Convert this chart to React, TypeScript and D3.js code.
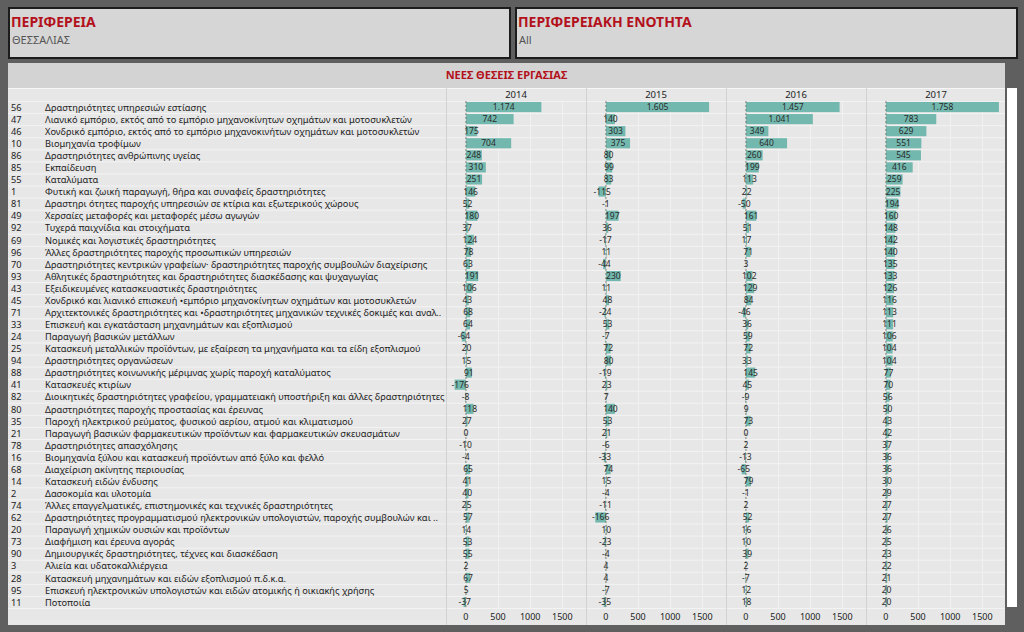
import React, { useEffect, useRef } from 'react'
import * as d3 from 'd3'

const codes = ['56', '47', '46', '10', '86', '85', '55', '1', '81', '49', '92', '69', '96', '70', '93', '43', '45', '71', '33', '24', '25', '94', '88', '41', '82', '80', '35', '21', '78', '16', '68', '14', '2', '74', '62', '20', '73', '90', '3', '28', '95', '11']

const sectors = [
  'Δραστηριότητες υπηρεσιών εστίασης',
  'Λιανικό εμπόριο, εκτός από το εμπόριο μηχανοκίνητων οχημάτων και μοτοσυκλετών',
  'Χονδρικό εμπόριο, εκτός από το εμπόριο μηχανοκινήτων οχημάτων και μοτοσυκλετών',
  'Βιομηχανία τροφίμων',
  'Δραστηριότητες ανθρώπινης υγείας',
  'Εκπαίδευση',
  'Καταλύματα',
  'Φυτική και ζωική παραγωγή, θήρα και συναφείς δραστηριότητες',
  'Δραστηρι ότητες παροχής υπηρεσιών σε κτίρια και εξωτερικούς χώρους',
  'Χερσαίες μεταφορές και μεταφορές μέσω αγωγών',
  'Τυχερά παιχνίδια και στοιχήματα',
  'Νομικές και λογιστικές δραστηριότητες',
  'Άλλες δραστηριότητες παροχής προσωπικών υπηρεσιών',
  'Δραστηριότητες κεντρικών γραφείων· δραστηριότητες παροχής συμβουλών διαχείρισης',
  'Αθλητικές δραστηριότητες και δραστηριότητες διασκέδασης και ψυχαγωγίας',
  'Εξειδικευμένες κατασκευαστικές δραστηριότητες',
  'Χονδρικό και λιανικό επισκευή •εμπόριο μηχανοκίνητων οχημάτων και μοτοσυκλετών',
  'Αρχιτεκτονικές δραστηριότητες και •δραστηριότητες μηχανικών τεχνικές δοκιμές και αναλ..',
  'Επισκευή και εγκατάσταση μηχανημάτων και εξοπλισμού',
  'Παραγωγή βασικών μετάλλων',
  'Κατασκευή μεταλλικών προϊόντων, με εξαίρεση τα μηχανήματα και τα είδη εξοπλισμού',
  'Δραστηριότητες οργανώσεων',
  'Δραστηριότητες κοινωνικής μέριμνας χωρίς παροχή καταλύματος',
  'Κατασκευές κτιρίων',
  'Διοικητικές δραστηριότητες γραφείου, γραμματειακή υποστήριξη και άλλες δραστηριότητες',
  'Δραστηριότητες παροχής προστασίας και έρευνας',
  'Παροχή ηλεκτρικού ρεύματος, φυσικού αερίου, ατμού και κλιματισμού',
  'Παραγωγή βασικών φαρμακευτικών προϊόντων και φαρμακευτικών σκευασμάτων',
  'Δραστηριότητες απασχόλησης',
  'Βιομηχανία ξύλου και κατασκευή προϊόντων από ξύλο και φελλό',
  'Διαχείριση ακίνητης περιουσίας',
  'Κατασκευή ειδών ένδυσης',
  'Δασοκομία και υλοτομία',
  'Άλλες επαγγελματικές, επιστημονικές και τεχνικές δραστηριότητες',
  'Δραστηριότητες προγραμματισμού ηλεκτρονικών υπολογιστών, παροχής συμβουλών και ..',
  'Παραγωγή χημικών ουσιών και προϊόντων',
  'Διαφήμιση και έρευνα αγοράς',
  'Δημιουργικές δραστηριότητες, τέχνες και διασκέδαση',
  'Αλιεία και υδατοκαλλιέργεια',
  'Κατασκευή μηχανημάτων και ειδών εξοπλισμού π.δ.κ.α.',
  'Επισκευή ηλεκτρονικών υπολογιστών και ειδών ατομικής ή οικιακής χρήσης',
  'Ποτοποιία',
]

const years = ['2014', '2015', '2016', '2017']

const jobs2014 = [1174, 742, 175, 704, 248, 310, 251, 146, 52, 180, 37, 124, 78, 63, 191, 106, 43, 68, 64, -64, 20, 15, 91, -176, -8, 118, 27, 0, -10, -4, 65, 41, 40, 25, 57, 14, 53, 55, 2, 67, 5, -37]
const jobs2015 = [1605, 140, 303, 375, 80, 99, 83, -115, -1, 197, 36, -17, 11, -44, 230, 11, 48, -24, 53, -7, 72, 80, -19, 23, 7, 140, 53, 21, -6, -33, 74, 15, -4, -11, -166, 10, -23, -4, 4, 4, -7, -35]
const jobs2016 = [1457, 1041, 349, 640, 260, 199, 113, 22, -50, 161, 51, 17, 71, 3, 102, 129, 84, -46, 36, 59, 72, 33, 145, 45, -9, 9, 73, 0, 2, -13, -65, 79, -1, 2, 52, 16, 10, 39, 2, -7, 12, 18]
const jobs2017 = [1758, 783, 629, 551, 545, 416, 259, 225, 194, 160, 148, 142, 140, 135, 133, 126, 116, 113, 111, 106, 104, 104, 77, 70, 56, 50, 43, 42, 37, 36, 36, 30, 29, 27, 27, 26, 25, 23, 22, 21, 20, 20]

const seriesByYear = [jobs2014, jobs2015, jobs2016, jobs2017]
const axisTicks = [0, 500, 1000, 1500]

const FONT = '"Noto Sans", "Open Sans", sans-serif'
const RED = '#b3111c'

export default function App() {
  const svgRef = useRef<SVGSVGElement>(null)

  useEffect(() => {
    document.body.style.margin = '0'
    if (!svgRef.current) return
    const svg = d3.select(svgRef.current)
    svg.selectAll('*').remove()

    const W = 1024
    const H = 632
    svg.append('rect').attr('width', W).attr('height', H).attr('fill', '#5f5f5f')

    // filter boxes
    const boxes = [
      { x: 8, title: 'ΠΕΡΙΦΕΡΕΙΑ', value: 'ΘΕΣΣΑΛΙΑΣ' },
      { x: 515, title: 'ΠΕΡΙΦΕΡΕΙΑΚΗ ΕΝΟΤΗΤΑ', value: 'All' },
    ]
    boxes.forEach((b) => {
      svg.append('rect')
        .attr('x', b.x + 1).attr('y', 8).attr('width', 501).attr('height', 50)
        .attr('fill', '#d6d6d6').attr('stroke', '#1c1c1c').attr('stroke-width', 2)
      svg.append('text')
        .attr('x', b.x + 3).attr('y', 27)
        .style('font-family', FONT).style('font-size', '14px').style('font-weight', '700')
        .style('fill', RED).text(b.title)
      svg.append('text')
        .attr('x', b.x + 4).attr('y', 44)
        .style('font-family', FONT).style('font-size', '11px')
        .style('fill', '#555').text(b.value)
    })

    // main panel
    const panelLeft = 8
    const panelRight = 1005
    svg.append('rect')
      .attr('x', panelLeft).attr('y', 63).attr('width', panelRight - panelLeft).attr('height', 562)
      .attr('fill', '#e7e7e7')
    svg.append('rect')
      .attr('x', panelLeft).attr('y', 63).attr('width', panelRight - panelLeft).attr('height', 25)
      .attr('fill', '#d3d3d3')
    svg.append('line')
      .attr('x1', panelLeft).attr('x2', panelRight).attr('y1', 88.5).attr('y2', 88.5)
      .attr('stroke', '#f7f7f7').attr('stroke-width', 1)
    svg.append('text')
      .attr('x', (panelLeft + panelRight) / 2).attr('y', 79)
      .attr('text-anchor', 'middle')
      .style('font-family', FONT).style('font-size', '11px').style('font-weight', '700')
      .style('fill', RED).text('ΝΕΕΣ ΘΕΣΕΙΣ ΕΡΓΑΣΙΑΣ')

    // scroll strip
    svg.append('rect')
      .attr('x', 1007).attr('y', 88).attr('width', 10).attr('height', 519)
      .attr('fill', '#ffffff')

    const rowIds = codes.map((c, i) => `${i}`)
    const yScale = d3.scaleBand().domain(rowIds).range([101, 608]).paddingInner(0.16).paddingOuter(0.08)
    const step = yScale.step()
    const rowTop = 101

    // row gridlines
    const g = svg.append('g')
    d3.range(codes.length + 1).forEach((i) => {
      g.append('line')
        .attr('x1', panelLeft).attr('x2', panelRight)
        .attr('y1', rowTop + i * step + 0.5).attr('y2', rowTop + i * step + 0.5)
        .attr('stroke', '#f3f3f3').attr('stroke-width', 1)
    })

    // row labels
    codes.forEach((c, i) => {
      const cy = rowTop + i * step + step / 2 + 0.5
      g.append('text')
        .attr('x', 11).attr('y', cy).attr('dy', '0.35em')
        .style('font-family', FONT).style('font-size', '9.25px').style('fill', '#222')
        .text(c)
      g.append('text')
        .attr('x', 45).attr('y', cy).attr('dy', '0.35em')
        .style('font-family', FONT).style('font-size', '9.25px').style('fill', '#222')
        .text(sectors[i])
    })

    const fmt = d3.formatLocale({ decimal: ',', thousands: '.', grouping: [3], currency: ['', '€'], minus: '-' }).format(',d')

    const panelStart = 446
    const panelWidth = 140
    const panelX = d3.scaleBand().domain(years).range([panelStart, panelStart + panelWidth * 4])

    years.forEach((yr, k) => {
      const px = panelX(yr) || 0
      const x = d3.scaleLinear().domain([-310, 1868]).range([px, px + panelWidth])

      // panel divider
      g.append('line')
        .attr('x1', px + 0.5).attr('x2', px + 0.5).attr('y1', 88).attr('y2', 625)
        .attr('stroke', '#d2d2d2')

      // vertical gridlines
      axisTicks.slice(1).forEach((t) => {
        g.append('line')
          .attr('x1', Math.round(x(t)) + 0.5).attr('x2', Math.round(x(t)) + 0.5)
          .attr('y1', rowTop).attr('y2', 608)
          .attr('stroke', '#f1f1f1')
      })

      g.append('text')
        .attr('x', px + panelWidth / 2).attr('y', 95).attr('dy', '0.35em')
        .attr('text-anchor', 'middle')
        .style('font-family', FONT).style('font-size', '9.5px').style('fill', '#222')
        .text(yr)

      const vals = seriesByYear[k]
      g.selectAll(`rect.bar-${yr}`)
        .data(vals)
        .join('rect')
        .attr('class', `bar-${yr}`)
        .attr('x', (d) => x(Math.min(0, d)))
        .attr('y', (d, i) => yScale(`${i}`) || 0)
        .attr('width', (d) => Math.abs(x(d) - x(0)))
        .attr('height', yScale.bandwidth())
        .attr('fill', '#73b8ae')

      // zero reference line
      g.append('line')
        .attr('x1', x(0)).attr('x2', x(0)).attr('y1', rowTop).attr('y2', 608)
        .attr('stroke', '#6a6a5a').attr('stroke-width', 0.8)
        .attr('stroke-dasharray', '2,2')

      g.selectAll(`text.val-${yr}`)
        .data(vals)
        .join('text')
        .attr('class', `val-${yr}`)
        .attr('x', (d) => (x(0) + x(d)) / 2)
        .attr('y', (d, i) => (yScale(`${i}`) || 0) + yScale.bandwidth() / 2)
        .attr('dy', '0.35em')
        .attr('text-anchor', 'middle')
        .style('font-family', FONT).style('font-size', '8.5px').style('fill', '#2a2a2a')
        .text((d) => fmt(d))

      // axis labels
      axisTicks.forEach((t) => {
        g.append('text')
          .attr('x', x(t)).attr('y', 617).attr('dy', '0.35em')
          .attr('text-anchor', 'middle')
          .style('font-family', FONT).style('font-size', '9px').style('fill', '#222')
          .text(t)
      })
    })
  }, [])

  return <svg ref={svgRef} width={1024} height={632} style={{ display: 'block' }} />
}
